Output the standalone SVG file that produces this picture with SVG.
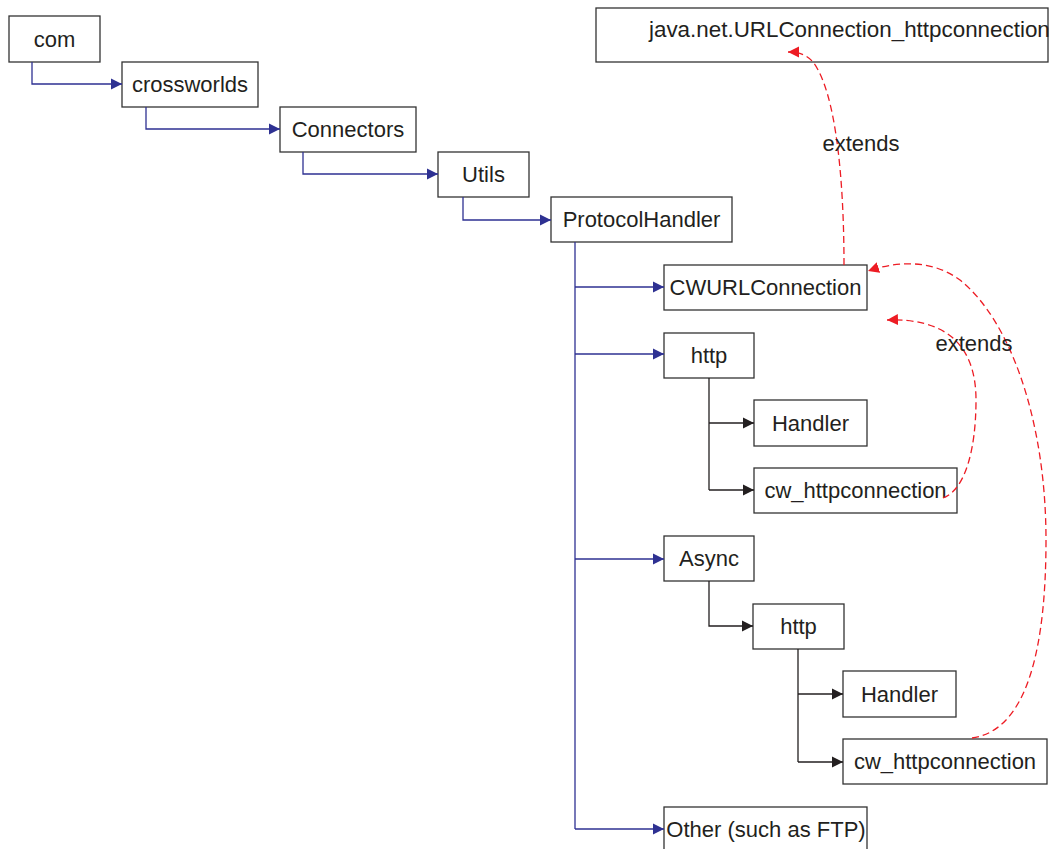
<svg xmlns="http://www.w3.org/2000/svg" width="1053" height="849" viewBox="0 0 1053 849">
<defs>
<marker id="ab" markerUnits="userSpaceOnUse" markerWidth="12" markerHeight="12" refX="11" refY="6" orient="auto"><path d="M0,0.5 L11,6 L0,11.5 z" fill="#2e3192"/></marker>
<marker id="ak" markerUnits="userSpaceOnUse" markerWidth="12" markerHeight="12" refX="11" refY="6" orient="auto"><path d="M0,0.5 L11,6 L0,11.5 z" fill="#231f20"/></marker>
<marker id="ar" markerUnits="userSpaceOnUse" markerWidth="13" markerHeight="13" refX="11" refY="5.5" orient="auto"><path d="M0,0 L11,5.5 L0,11 z" fill="#ed1c24"/></marker>
<style>
.box{fill:#fff;stroke:#333;stroke-width:1.3}
.t{font-family:"Liberation Sans",Arial,sans-serif;font-size:22px;fill:#231f20;text-anchor:middle}
.b{fill:none;stroke:#2e3192;stroke-width:1.3}
.k{fill:none;stroke:#231f20;stroke-width:1.3}
.r{fill:none;stroke:#ed1c24;stroke-width:1.3;stroke-dasharray:7,4}
</style>
</defs>
<g id="n-java"><rect class="box" x="596" y="8" width="452" height="54"/><text class="t" x="649" y="37" style="text-anchor:start;font-size:22.4px">java.net.URLConnection_httpconnection</text></g>
<g id="n-com"><rect class="box" x="9" y="16" width="91" height="46"/><text class="t" x="54.5" y="47">com</text></g>
<g id="n-crossworlds"><rect class="box" x="122" y="62" width="136" height="45"/><text class="t" x="190" y="92">crossworlds</text></g>
<g id="n-connectors"><rect class="box" x="280" y="107" width="136" height="45"/><text class="t" x="348" y="137">Connectors</text></g>
<g id="n-utils"><rect class="box" x="438" y="152" width="91" height="45"/><text class="t" x="483.5" y="182">Utils</text></g>
<g id="n-protocolhandler"><rect class="box" x="551" y="197" width="181" height="45"/><text class="t" x="641.5" y="227">ProtocolHandler</text></g>
<g id="n-cwurlconnection"><rect class="box" x="664" y="265" width="203" height="45"/><text class="t" x="765.5" y="295">CWURLConnection</text></g>
<g id="n-http1"><rect class="box" x="664" y="333" width="90" height="45"/><text class="t" x="709" y="363">http</text></g>
<g id="n-handler1"><rect class="box" x="754" y="400" width="113" height="46"/><text class="t" x="810.5" y="431">Handler</text></g>
<g id="n-cw1"><rect class="box" x="754" y="468" width="203" height="45"/><text class="t" x="855.5" y="498">cw_httpconnection</text></g>
<g id="n-async"><rect class="box" x="664" y="536" width="90" height="45"/><text class="t" x="709" y="566">Async</text></g>
<g id="n-http2"><rect class="box" x="753" y="604" width="91" height="45"/><text class="t" x="798.5" y="634">http</text></g>
<g id="n-handler2"><rect class="box" x="843" y="671" width="113" height="46"/><text class="t" x="899.5" y="702">Handler</text></g>
<g id="n-cw2"><rect class="box" x="843" y="739" width="204" height="45"/><text class="t" x="945" y="769">cw_httpconnection</text></g>
<g id="n-other"><rect class="box" x="664" y="807" width="203" height="60"/><text class="t" x="766" y="837">Other (such as FTP)</text></g>
<g id="connectors">
<path class="b" d="M32,62 V84 H122" marker-end="url(#ab)"/>
<path class="b" d="M146,107 V129 H280" marker-end="url(#ab)"/>
<path class="b" d="M303,152 V174 H438" marker-end="url(#ab)"/>
<path class="b" d="M463,197 V220 H551" marker-end="url(#ab)"/>
<path class="b" d="M575,242 V829"/>
<path class="b" d="M575,287 H664" marker-end="url(#ab)"/>
<path class="b" d="M575,354 H664" marker-end="url(#ab)"/>
<path class="b" d="M575,559 H664" marker-end="url(#ab)"/>
<path class="b" d="M575,829 H664" marker-end="url(#ab)"/>
<path class="k" d="M709,378 V490"/>
<path class="k" d="M709,423 H754" marker-end="url(#ak)"/>
<path class="k" d="M709,490 H754" marker-end="url(#ak)"/>
<path class="k" d="M709,581 V626 H753" marker-end="url(#ak)"/>
<path class="k" d="M798,649 V762"/>
<path class="k" d="M798,694 H843" marker-end="url(#ak)"/>
<path class="k" d="M798,762 H843" marker-end="url(#ak)"/>
<path class="r" d="M844,265 C844,180 836,92 813,62 C807,55 799,52 788,52" marker-end="url(#ar)"/>
<path class="r" d="M943,498 C965,490 976,450 976,400 C976,340 940,318 887,320" marker-end="url(#ar)"/>
<path class="r" d="M972,738 C1030,730 1046,640 1046,540 C1046,420 1010,320 960,280 C930,258 895,262 868,271" marker-end="url(#ar)"/>
<text class="t" x="861" y="151">extends</text>
<text class="t" x="974" y="351">extends</text>
</g>
</svg>
